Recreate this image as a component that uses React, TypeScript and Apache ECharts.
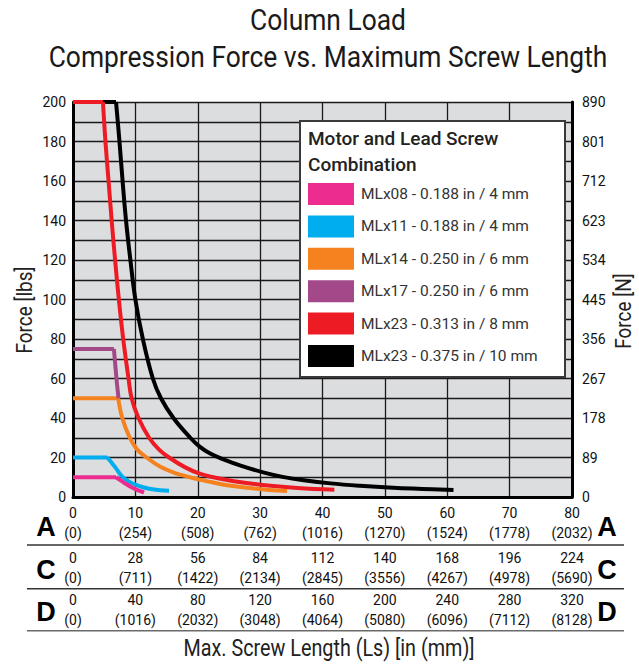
import { useEffect, useRef } from 'react';
import * as echarts from 'echarts';

// ---- Data ----
const titleLines = ['Column Load', 'Compression Force vs. Maximum Screw Length'];
const legendTitle = ['Motor and Lead Screw', 'Combination'];

const seriesNames = [
  'MLx08 - 0.188 in / 4 mm',
  'MLx11 - 0.188 in / 4 mm',
  'MLx14 - 0.250 in / 6 mm',
  'MLx17 - 0.250 in / 6 mm',
  'MLx23 - 0.313 in / 8 mm',
  'MLx23 - 0.375 in / 10 mm',
];
const seriesColors = ['#ec2d8f', '#00aeef', '#f5821f', '#a3498a', '#ed1c24', '#000000'];

// [length (in, row A scale), force (lbs)] — first two points are the flat (max force) segment
const mlx08 = [[0, 10], [6.9, 10], [7.7, 8.3], [8.5, 6.6], [9.3, 5.1], [10.1, 3.9], [10.8, 3.0], [11.4, 2.3]];
const mlx11 = [[0, 20], [5.5, 20], [6.3, 17], [6.9, 14.5], [7.9, 10.3], [9, 7.8], [10.1, 6.1], [11.4, 4.8], [12.7, 3.9], [14, 3.4], [15.4, 3.2]];
const mlx14 = [[0, 50], [7.25, 50], [7.9, 40], [9.1, 30], [10.3, 24], [11.8, 20], [14, 15.3], [16.5, 12], [18.5, 10.2], [20.3, 8.8], [22.5, 7.3], [25, 5.8], [28.8, 4.4], [31.5, 3.6], [34.3, 3.0]];
const mlx17 = [[0, 75], [6.55, 75], [6.75, 68], [7.0, 59], [7.3, 50]];
const mlx23a = [[0, 200], [4.8, 200], [5.2, 180], [5.7, 160], [6.2, 140], [6.75, 120], [7.35, 100], [8.05, 80], [8.9, 60], [9.4, 50], [10.5, 40], [12.2, 30], [13.8, 24], [15.4, 20], [18, 15], [20.3, 11.8], [22.5, 10], [25.8, 8], [28.5, 6.8], [30.8, 5.9], [36, 4.6], [41.9, 3.7]];
const mlx23b = [[0, 200], [6.9, 200], [7.45, 180], [7.95, 160], [8.5, 140], [9.2, 120], [10.0, 100], [11.2, 80], [12.8, 60], [14.1, 50], [16.1, 40], [18.8, 30], [20.3, 25.5], [22, 22], [24, 19.2], [27, 15.8], [30.8, 12.2], [33.6, 10.2], [37, 8.5], [41.3, 6.9], [46, 5.7], [51.3, 4.7], [56, 4.1], [61, 3.5]];
const seriesData = [mlx08, mlx11, mlx14, mlx17, mlx23a, mlx23b];
const drawOrder = [5, 4, 2, 3, 1, 0];

// Tick labels
const rowLetters = ['A', 'C', 'D'];
const aIn = [0, 10, 20, 30, 40, 50, 60, 70, 80];
const aMm = [0, 254, 508, 762, 1016, 1270, 1524, 1778, 2032];
const cIn = [0, 28, 56, 84, 112, 140, 168, 196, 224];
const cMm = [0, 711, 1422, 2134, 2845, 3556, 4267, 4978, 5690];
const dIn = [0, 40, 80, 120, 160, 200, 240, 280, 320];
const dMm = [0, 1016, 2032, 3048, 4064, 5080, 6096, 7112, 8128];
const lbsMax = 200;
const lbsStep = 10;
const lbsLabelStep = 20;
const newtonTicks = [0, 89, 178, 267, 356, 445, 534, 623, 712, 801, 890];

const xName = 'Max. Screw Length (Ls) [in (mm)]';
const yNameLeft = 'Force [lbs]';
const yNameRight = 'Force [N]';

const FONT = "Roboto, 'Noto Sans', sans-serif";

export default function App() {
  const ref = useRef<HTMLDivElement>(null);
  useEffect(() => {
    document.body.style.margin = '0';
    if (!ref.current) return;
    const chart = echarts.init(ref.current, undefined, { renderer: 'svg' });

    const tickLabel = { fontFamily: FONT, fontSize: 14, color: '#111', lineHeight: 20 };
    const rowAxis = (ins: number[], mms: number[], offset: number) => ({
      type: 'value',
      position: 'bottom',
      gridIndex: 0,
      min: ins[0],
      max: ins[ins.length - 1],
      interval: ins[1] - ins[0],
      offset,
      axisLine: { show: false },
      axisTick: { show: false },
      splitLine: { show: false },
      axisLabel: {
        ...tickLabel,
        margin: 6,
        formatter: (v: number) => {
          const i = Math.round((v - ins[0]) / (ins[1] - ins[0]));
          return `${ins[i]}\n(${mms[i]})`;
        },
      },
    });

    const sepYs = [545, 588.7, 630.7];
    const letterYs = [527, 570, 612];

    const series: any[] = [];
    drawOrder.forEach((i) => {
      const d = seriesData[i];
      const base = {
        type: 'line',
        name: seriesNames[i],
        xAxisIndex: 0,
        yAxisIndex: 0,
        symbol: 'none',
        showSymbol: false,
        silent: true,
        itemStyle: { color: seriesColors[i] },
        lineStyle: { color: seriesColors[i], width: 4, join: 'miter', cap: 'butt' },
      };
      series.push({ ...base, data: d.slice(0, 2) });
      series.push({ ...base, data: d.slice(1), smooth: 0.4 });
    });

    const option: any = {
      animation: false,
      grid: {
        left: 73, right: 67, top: 102, bottom: 168,
        show: true, backgroundColor: '#dcdddf', borderWidth: 0,
      },
      legend: {
        data: seriesNames,
        orient: 'vertical',
        left: 308,
        top: 183,
        itemWidth: 46,
        itemHeight: 22,
        itemGap: 10.4,
        icon: 'rect',
        selectedMode: false,
        padding: 0,
        z: 10,
        textStyle: { fontFamily: FONT, fontSize: 15.5, color: '#333', padding: [0, 0, 0, 2] },
      },
      xAxis: [
        {
          ...rowAxis(aIn, aMm, 0),
          axisLine: { show: true, onZero: false, lineStyle: { color: '#000', width: 3 } },
          splitLine: { show: true, lineStyle: { color: '#1a1a1a', width: 1.3 } },
        },
        rowAxis(cIn, cMm, 45),
        rowAxis(dIn, dMm, 86.7),
      ],
      yAxis: [
        {
          type: 'value',
          position: 'left',
          min: 0,
          max: lbsMax,
          interval: lbsStep,
          axisLine: { show: true, onZero: false, lineStyle: { color: '#000', width: 3 } },
          axisTick: { show: false },
          splitLine: { show: true, lineStyle: { color: '#1a1a1a', width: 1.3 } },
          axisLabel: {
            ...tickLabel,
            margin: 7,
            formatter: (v: number) => (v % lbsLabelStep === 0 ? String(v) : ''),
          },
        },
        {
          type: 'value',
          position: 'right',
          min: newtonTicks[0],
          max: newtonTicks[newtonTicks.length - 1],
          interval: newtonTicks[1] - newtonTicks[0],
          axisLine: { show: true, onZero: false, lineStyle: { color: '#000', width: 3 } },
          axisTick: { show: false },
          splitLine: { show: false },
          axisLabel: {
            ...tickLabel,
            margin: 10,
            formatter: (v: number) => String(newtonTicks[Math.round(v / (newtonTicks[1] - newtonTicks[0]))]),
          },
        },
      ],
      series,
      graphic: [
        {
          type: 'text',
          x: 328,
          y: 20,
          scaleX: 0.88,
          style: { text: titleLines[0], fontFamily: FONT, fontSize: 30, fill: '#1a1a1a', align: 'center', verticalAlign: 'middle' },
        },
        {
          type: 'text',
          x: 328,
          y: 57,
          scaleX: 0.88,
          style: { text: titleLines[1], fontFamily: FONT, fontSize: 30, fill: '#1a1a1a', align: 'center', verticalAlign: 'middle' },
        },
        {
          type: 'rect',
          z: 5,
          shape: { x: 300, y: 121, width: 265, height: 256 },
          style: { fill: '#ffffff', stroke: '#3a3a3a', lineWidth: 2 },
        },
        {
          type: 'text',
          z: 6,
          x: 308,
          y: 125,
          style: {
            text: legendTitle.join('\n'),
            fontFamily: FONT,
            fontSize: 19,
            fontWeight: 500,
            lineHeight: 26,
            fill: '#222',
          },
        },
        ...sepYs.map((y, k) => ({
          type: 'line',
          shape: { x1: 27, y1: y, x2: 624, y2: y },
          style: { stroke: k === 2 ? '#6a6a6a' : '#333', lineWidth: 1.6 },
        })),
        ...rowLetters.flatMap((t, k) => [46, 607].map((x) => ({
          type: 'text',
          x,
          y: letterYs[k],
          style: {
            text: t, fontFamily: "'Liberation Sans', Arial, sans-serif", fontWeight: 'bold', fontSize: 27,
            fill: '#000', align: 'center', verticalAlign: 'middle',
          },
        }))),
        {
          type: 'text',
          x: 24,
          y: 310,
          rotation: Math.PI / 2,
          scaleX: 0.86,
          style: { text: yNameLeft, fontFamily: FONT, fontSize: 22, fill: '#222', align: 'center', verticalAlign: 'middle' },
        },
        {
          type: 'text',
          x: 623,
          y: 311,
          rotation: Math.PI / 2,
          scaleX: 0.86,
          style: { text: yNameRight, fontFamily: FONT, fontSize: 22, fill: '#222', align: 'center', verticalAlign: 'middle' },
        },
        {
          type: 'text',
          x: 329,
          y: 648,
          scaleX: 0.86,
          style: { text: xName, fontFamily: FONT, fontSize: 23, fill: '#222', align: 'center', verticalAlign: 'middle' },
        },
      ],
    };
    chart.setOption(option);
    return () => chart.dispose();
  }, []);
  return <div ref={ref} style={{ width: 639, height: 665 }} />;
}
